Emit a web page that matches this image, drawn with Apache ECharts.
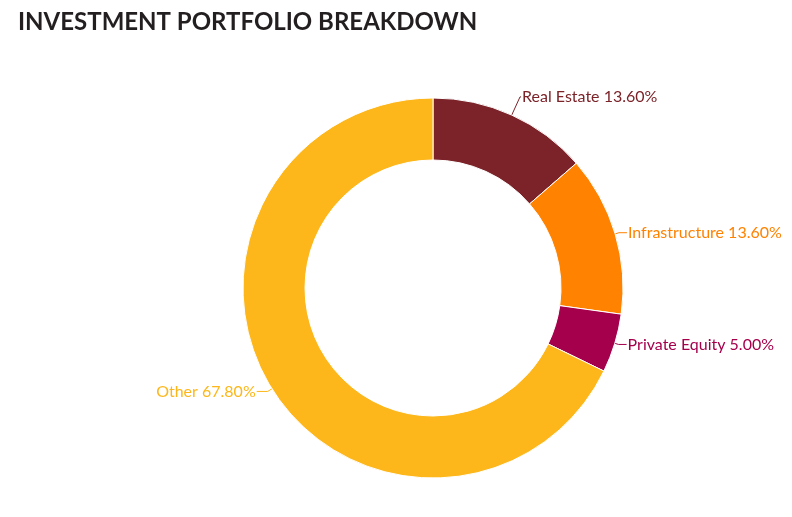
<!DOCTYPE html>
<html>
<head>
<meta charset="utf-8">
<script src="https://cdn.jsdelivr.net/npm/echarts@6/dist/echarts.min.js"></script>
<style>
html, body { margin: 0; padding: 0; background: #fff; }
#main { width: 792px; height: 517px; }
</style>
</head>
<body>
<div id="main"></div>
<script>
var categories = ['Real Estate', 'Infrastructure', 'Private Equity', 'Other'];
var shares = [13.6, 13.6, 5.0, 67.8];
var colors = ['#7b2329', '#ff8200', '#a5004c', '#fdb71a'];

var chart = echarts.init(document.getElementById('main'));
var option = {
	title: {
		text: 'INVESTMENT PORTFOLIO BREAKDOWN',
		left: 13,
		top: 5,
		textStyle: {
			fontFamily: 'Lato',
			fontWeight: 'bold',
			fontSize: 24,
			color: '#231f20'
		}
	},
	series: [{
		type: 'pie',
		center: [433, 288],
		radius: [128, 190],
		startAngle: 90,
		avoidLabelOverlap: true,
		itemStyle: { borderColor: '#fff', borderWidth: 1 },
		label: {
			show: true,
			fontFamily: 'Lato',
			fontSize: 16,
			overflow: 'none',
			distanceToLabelLine: 1,
			formatter: function(p) { return p.name + ' ' + p.value.toFixed(2) + '%'; }
		},
		labelLine: { show: true, length: 5, length2: 11, lineStyle: { width: 1 } },
		data: categories.map(function(c, i) {
			var d = {
				name: c,
				value: shares[i],
				itemStyle: { color: colors[i] },
				label: { color: colors[i], overflow: 'none' },
				labelLine: { lineStyle: { color: colors[i] } }
			};
			if (i === 0) {
				d.labelLine.length = 20;
				d.labelLine.length2 = 1;
			}
			if (i === 1 || i === 2) {
				d.labelLine.length = 4;
				d.labelLine.length2 = 8;
			}
			return d;
		})
	}]
};
chart.setOption(option);
window.onresize = chart.resize;
</script>
</body>
</html>
